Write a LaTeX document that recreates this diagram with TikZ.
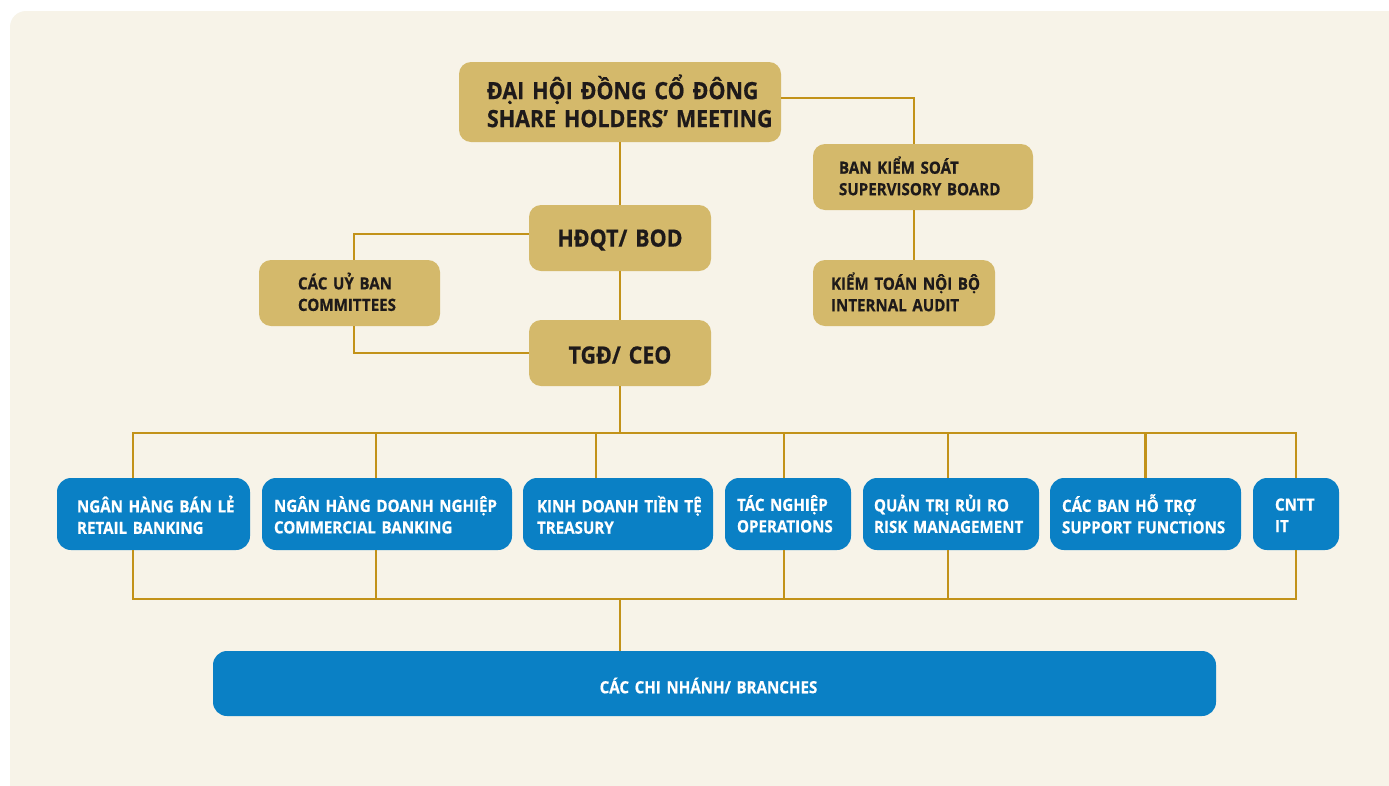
\documentclass[tikz,border=0pt]{standalone}
\usepackage{fontspec}
\setmainfont{Open Sans}[FakeStretch=0.9, BoldFeatures={FakeBold=0.6}]
\usetikzlibrary{calc}
\definecolor{bgcream}{HTML}{F7F3E8}
\definecolor{goldbox}{HTML}{D4B96B}
\definecolor{goldline}{HTML}{C29219}
\definecolor{bluebox}{HTML}{0A80C5}
\definecolor{darktext}{HTML}{1E1A1A}
\newcommand{\padlab}[3]{\hspace*{#1pt}\raisebox{-#2pt}[\height][\depth]{\begin{tabular}{@{}l@{}}#3\end{tabular}}}
\newcommand{\dnlab}[2]{\raisebox{-#1pt}[\height][\depth]{#2}}
\tikzset{
  goldnode/.style={fill=goldbox, rounded corners=12pt, inner sep=0pt, align=left,
    text=darktext, font=\bfseries\fontsize{16.8}{21.5}\selectfont},
  bluenode/.style={fill=bluebox, rounded corners=14pt, inner sep=0pt, align=left,
    text=white, font=\bfseries\fontsize{16.8}{21.5}\selectfont,
    minimum height=72pt},
  bigfont/.style={font=\bfseries\fontsize{23.8}{28}\selectfont},
  conn/.style={draw=goldline, line width=2.8pt},
}
\begin{document}
\begin{tikzpicture}[x=1pt,y=-1pt]
\useasboundingbox (0,0) rectangle (1389,785);
\fill[white] (0,0) rectangle (1389,785);
\begin{scope}
\clip (0,0) rectangle (1389,785);
\fill[bgcream, rounded corners=16pt] (10,11) rectangle (1420,820);
\end{scope}

% gold nodes
\node[goldnode, bigfont, text width=322pt, minimum height=80pt] (agm) at (620,102)
  {\padlab{28}{3}{ĐẠI HỘI ĐỒNG CỔ ĐÔNG\\SHARE HOLDERS’ MEETING}};
\node[goldnode, text width=220pt, minimum height=66pt] (bks) at (923,177)
  {\padlab{26}{2}{BAN KIỂM SOÁT\\SUPERVISORY BOARD}};
\node[goldnode, bigfont, align=center, text width=182pt, minimum height=66pt] (bod) at (620,238)
  {\dnlab{2}{HĐQT/ BOD}};
\node[goldnode, text width=181pt, minimum height=66pt] (com) at (349.5,293)
  {\padlab{39}{2}{CÁC UỶ BAN\\COMMITTEES}};
\node[goldnode, text width=182pt, minimum height=66pt] (ktnb) at (904,293)
  {\padlab{18}{2}{KIỂM TOÁN NỘI BỘ\\INTERNAL AUDIT}};
\node[goldnode, bigfont, align=center, text width=182pt, minimum height=66pt] (ceo) at (620,353)
  {\dnlab{2}{TGĐ/ CEO}};

% blue nodes
\node[bluenode, text width=193pt] (retail) at (153.5,514)
  {\padlab{20}{4}{NGÂN HÀNG BÁN LẺ\\RETAIL BANKING}};
\node[bluenode, text width=250pt] (comm) at (387,514)
  {\padlab{12}{4}{NGÂN HÀNG DOANH NGHIỆP\\COMMERCIAL BANKING}};
\node[bluenode, text width=190pt] (treas) at (618,514)
  {\padlab{14}{4}{KINH DOANH TIỀN TỆ\\TREASURY}};
\node[bluenode, text width=126pt] (ops) at (788,514)
  {\padlab{12}{3}{TÁC NGHIỆP\\OPERATIONS}};
\node[bluenode, text width=176pt] (risk) at (951,514)
  {\padlab{11}{3}{QUẢN TRỊ RỦI RO\\RISK MANAGEMENT}};
\node[bluenode, text width=191pt] (supp) at (1145.5,514)
  {\padlab{12}{3}{CÁC BAN HỖ TRỢ\\SUPPORT FUNCTIONS}};
\node[bluenode, text width=86pt] (it) at (1296,514)
  {\padlab{22}{3}{CNTT\\IT}};
\node[bluenode, align=center, text width=1003pt, minimum height=65pt] (br) at (714.5,683.5)
  {\hspace*{-12pt}\dnlab{2}{CÁC CHI NHÁNH/ BRANCHES}};

% bus coordinates
\coordinate (tb) at (620,433);
\coordinate (bb) at (620,599);

% top connectors
\draw[conn] ([yshift=4pt]agm.east) -| ([xshift=-9pt]bks.north);
\draw[conn] ([xshift=-9pt]bks.south) -- ([xshift=-9pt]bks.south |- ktnb.north);
\draw[conn] (agm.south) -- (bod.north);
\draw[conn] (bod.south) -- (ceo.north);
\draw[conn] ([yshift=4pt]bod.west) -| ([xshift=4.5pt]com.north);
\draw[conn] ([xshift=4.5pt]com.south) |- (ceo.west);
\draw[conn] (ceo.south) -- (tb);

% top bus
\draw[conn] (tb) -| ([xshift=-20.5pt]retail.north);
\draw[conn] (tb) -| ([xshift=-11pt]comm.north);
\draw[conn] (tb) -| ([xshift=-22pt]treas.north);
\draw[conn] (tb) -| ([xshift=-4pt]ops.north);
\draw[conn] (tb) -| ([xshift=-3pt]risk.north);
\draw[conn] (tb) -| (supp.north);
\draw[conn] (tb) -| (it.north);

% bottom bus
\draw[conn] ([xshift=-20.5pt]retail.south) |- (bb);
\draw[conn] ([xshift=-11pt]comm.south) |- (bb);
\draw[conn] ([xshift=-4pt]ops.south) |- (bb);
\draw[conn] ([xshift=-3pt]risk.south) |- (bb);
\draw[conn] (it.south) |- (bb);
\draw[conn] (bb) -- (bb |- br.north);
\end{tikzpicture}
\end{document}
